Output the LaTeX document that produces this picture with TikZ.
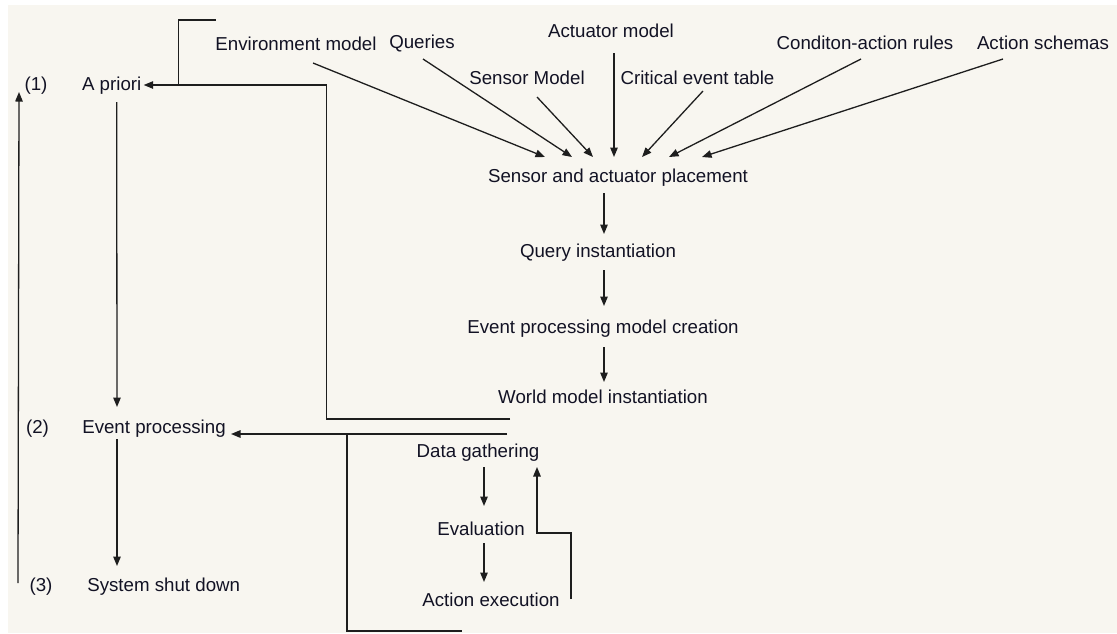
\documentclass[tikz,border=0pt]{standalone}
\usepackage{fontspec}
\setmainfont{Liberation Sans}
\usetikzlibrary{arrows.meta,calc}
\definecolor{paper}{RGB}{248,246,240}
\definecolor{ink}{RGB}{18,18,36}
\definecolor{wire}{RGB}{30,30,30}
\begin{document}
\begin{tikzpicture}[x=1pt,y=-1pt,
  lbl/.style={anchor=base,inner sep=0pt,text=ink,font=\fontsize{18.7}{22}\selectfont},
  line/.style={draw=wire,line width=1.3pt},
  arr/.style={line,-{Triangle[length=9.5pt,width=7.5pt]}}]
\useasboundingbox (0,0) rectangle (1117,633);
\fill[white] (0,0) rectangle (1117,633);
\fill[paper] (8,5) rectangle (1117,633);

% inputs to the placement step
\node[lbl] (env) at (296,50) {Environment model};
\node[lbl] (qry) at (422,48) {Queries};
\node[lbl] (act) at (611,37) {Actuator model};
\node[lbl] (sen) at (527,84) {Sensor Model};
\node[lbl] (cet) at (697.5,84) {Critical event table};
\node[lbl] (car) at (865,49) {Conditon-action rules};
\node[lbl] (sch) at (1043,49) {Action schemas};

% a-priori chain
\node[lbl] (sap) at (618,182) {Sensor and actuator placement};
\node[lbl] (qi)  at (598,257) {Query instantiation};
\node[lbl] (epm) at (603,333) {Event processing model creation};
\node[lbl] (wmi) at (603,403) {World model instantiation};

% phases
\node[lbl] (n1) at (36,90) {(1)};
\node[lbl] (apr) at (111.7,90) {A priori};
\node[lbl] (n2) at (37.5,433) {(2)};
\node[lbl] (evp) at (154,433) {Event processing};
\node[lbl] (n3) at (41,591) {(3)};
\node[lbl] (ssd) at (163.7,591) {System shut down};

% event-processing loop
\node[lbl] (dg) at (478,457) {Data gathering};
\node[lbl] (ev) at (481,535) {Evaluation};
\node[lbl] (ae) at (491,606) {Action execution};

% fan-in arrows
\draw[arr] ($(env.base)+(17,13)$) -- ($(sap.base)+(-73,-25)$);
\draw[arr] ($(qry.base)+(1,11)$) -- ($(sap.base)+(-46,-25)$);
\draw[arr] ($(sen.base)+(10,13)$) -- ($(sap.base)+(-25,-25)$);
\draw[arr] ($(act.base)+(3,16)$) -- ($(sap.base)+(-4,-25)$);
\draw[arr] ($(cet.base)+(5.5,7)$) -- ($(sap.base)+(24,-25)$);
\draw[arr] ($(car.base)+(-4,10)$) -- ($(sap.base)+(51,-25)$);
\draw[arr] ($(sch.base)+(-40,10)$) -- ($(sap.base)+(84,-25)$);

% chain arrows
\draw[arr] ($(sap.base)+(-14,11)$) -- ($(qi.base)+(6,-23)$);
\draw[arr] ($(qi.base)+(6,13)$) -- ($(epm.base)+(1,-27)$);
\draw[arr] ($(epm.base)+(1,14)$) -- ($(wmi.base)+(1,-21)$);

% phase arrows
\draw[arr] ($(apr.base)+(5,12)$) -- ($(evp.base)+(-37,-26)$);
\draw[arr] ($(evp.base)+(-37,6)$) -- ($(ssd.base)+(-46.7,-25)$);
\draw[arr] ($(n3.base)+(-23,-8)$) -- ($(n1.base)+(-17,2)$);

% world model back to a priori
\coordinate (wmout) at ($(wmi.base)+(-93,16)$);
\coordinate (aprin) at ($(apr.base)+(32,-5)$);
\draw[arr] (wmout) -| ($(aprin)+(183,0)$) -- (aprin);
\draw[line] ($(aprin)+(35,0)$) |- ($(env.base)+(-80,-30)$);

% event loop back to event processing
\coordinate (dgout) at ($(dg.base)+(29,-23)$);
\coordinate (evpin) at ($(evp.base)+(77,1)$);
\draw[arr] (dgout) -- (evpin);
\draw[line] ($(dg.base)+(-131,-23)$) |- ($(ae.base)+(-29,25)$);

% data loop
\draw[arr] ($(dg.base)+(6,10)$) -- ($(ev.base)+(3,-29)$);
\draw[arr] ($(ev.base)+(3,8)$) -- ($(ae.base)+(-7,-24)$);
\draw[arr] ($(ae.base)+(80,-7)$) |- ($(ev.base)+(56,-2)$) -- ($(dg.base)+(59,10)$);
\end{tikzpicture}
\end{document}
